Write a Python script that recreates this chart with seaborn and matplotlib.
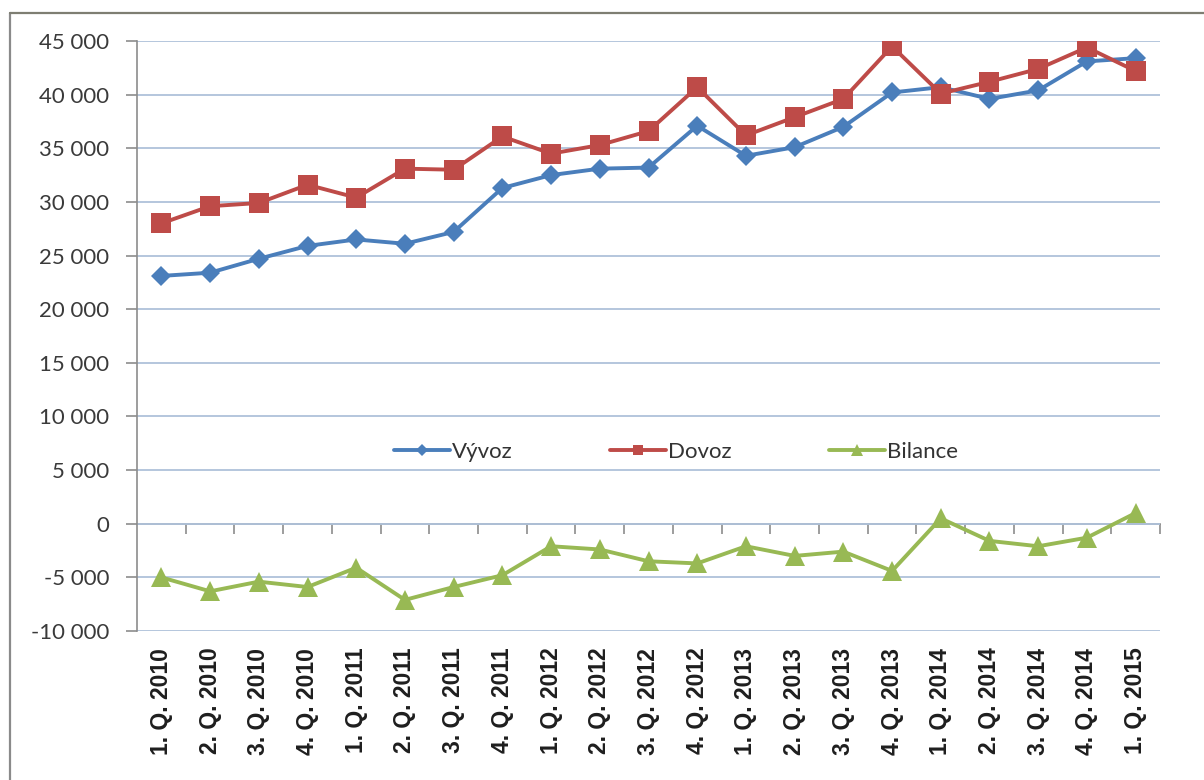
import matplotlib
matplotlib.use("Agg")
import matplotlib.pyplot as plt
import seaborn as sns
import pandas as pd
from matplotlib.ticker import FuncFormatter
from matplotlib.lines import Line2D

quarters = ["1. Q. 2010", "2. Q. 2010", "3. Q. 2010", "4. Q. 2010",
            "1. Q. 2011", "2. Q. 2011", "3. Q. 2011", "4. Q. 2011",
            "1. Q. 2012", "2. Q. 2012", "3. Q. 2012", "4. Q. 2012",
            "1. Q. 2013", "2. Q. 2013", "3. Q. 2013", "4. Q. 2013",
            "1. Q. 2014", "2. Q. 2014", "3. Q. 2014", "4. Q. 2014",
            "1. Q. 2015"]
vyvoz = [23100, 23400, 24700, 25900, 26500, 26100, 27200, 31300,
         32500, 33100, 33200, 37100, 34300, 35100, 37000, 40200,
         40700, 39600, 40400, 43100, 43400]
dovoz = [28000, 29600, 29900, 31600, 30400, 33100, 33000, 36100,
         34500, 35300, 36600, 40700, 36200, 37900, 39600, 44500,
         40100, 41200, 42400, 44400, 42200]
bilance = [-5000, -6300, -5400, -5900, -4100, -7100, -5900, -4800,
           -2100, -2400, -3500, -3700, -2100, -3000, -2600, -4400,
           500, -1600, -2100, -1300, 1000]

series_names = ["Vývoz", "Dovoz", "Bilance"]
colors = {"Vývoz": "#4A7EBB", "Dovoz": "#BE4B48", "Bilance": "#98B954"}
markers = {"Vývoz": "D", "Dovoz": "s", "Bilance": "^"}
msizes = {"Vývoz": 10.5, "Dovoz": 14, "Bilance": 14.5}

df = pd.DataFrame({"idx": range(len(quarters)), "Vývoz": vyvoz,
                   "Dovoz": dovoz, "Bilance": bilance})
long = df.melt(id_vars="idx", var_name="series", value_name="value")

sns.set_theme(style="white")
plt.rcParams["font.family"] = ["Lato", "DejaVu Sans"]

YMIN, YMAX = -10000, 45000

W, H = 1204, 780
fig = plt.figure(figsize=(W / 100, H / 100), dpi=100)
ax = fig.add_axes([137 / W, 1 - 631 / H, (1160 - 137) / W, (631 - 41) / H])

for name in series_names:
    sns.lineplot(data=long[long["series"] == name], x="idx", y="value",
                 color=colors[name], marker=markers[name],
                 markersize=msizes[name], markeredgewidth=0,
                 linewidth=2.8, ax=ax, label=name, zorder=3)

ax.set_xlim(-0.5, len(quarters) - 0.5)
ax.set_ylim(YMIN, YMAX)
ax.set_yticks(range(YMIN, YMAX + 1, 5000))
ax.yaxis.set_major_formatter(FuncFormatter(lambda v, p: f"{int(v):,}".replace(",", " ")))
ax.set_xlabel("")
ax.set_ylabel("")

ax.yaxis.grid(True, color="#AFC2DA", linewidth=1.3)
ax.set_axisbelow(True)

for s in ["top", "right", "bottom"]:
    ax.spines[s].set_visible(False)
ax.spines["left"].set_color("#8C8C8C")
ax.spines["left"].set_linewidth(1.2)

# category labels at the bottom of the plot
ax.set_xticks(list(range(len(quarters))))
ax.set_xticklabels(quarters, rotation=90, fontweight="bold", fontsize=16.5,
                   color="#1E1E1E", family=["Liberation Sans", "DejaVu Sans"])
ax.tick_params(axis="x", length=0, pad=12)
ax.tick_params(axis="y", direction="out", length=8, color="#8C8C8C",
               width=1.2, labelsize=16, labelcolor="#3A3A3A", pad=12, left=True)

# horizontal category axis line crossing at value 0, with boundary tick marks
zero_frac = (0 - YMIN) / (YMAX - YMIN)
sec = ax.secondary_xaxis(zero_frac)
sec.set_xticks([i + 0.5 for i in range(len(quarters))])
sec.set_xticklabels([])
sec.tick_params(direction="out", length=7, color="#8C8C8C", width=1.2)
sec.spines["bottom"].set_color("#8C8C8C")
sec.spines["bottom"].set_linewidth(1.2)

leg = ax.legend(loc="center", bbox_to_anchor=(0.527, 0.303), ncol=3,
                frameon=False, handlelength=2.5, columnspacing=4.4,
                handletextpad=0.1, fontsize=16, markerscale=0.55)
for t in leg.get_texts():
    t.set_color("#333333")

fig.add_artist(Line2D([10 / W, 10 / W], [0, 1 - 13 / H], transform=fig.transFigure,
                      color="#8A8A8A", linewidth=1.6))
fig.add_artist(Line2D([10 / W, 1], [1 - 13 / H, 1 - 13 / H], transform=fig.transFigure,
                      color="#7E7E72", linewidth=1.6))

fig.savefig("out.png", dpi=100)
